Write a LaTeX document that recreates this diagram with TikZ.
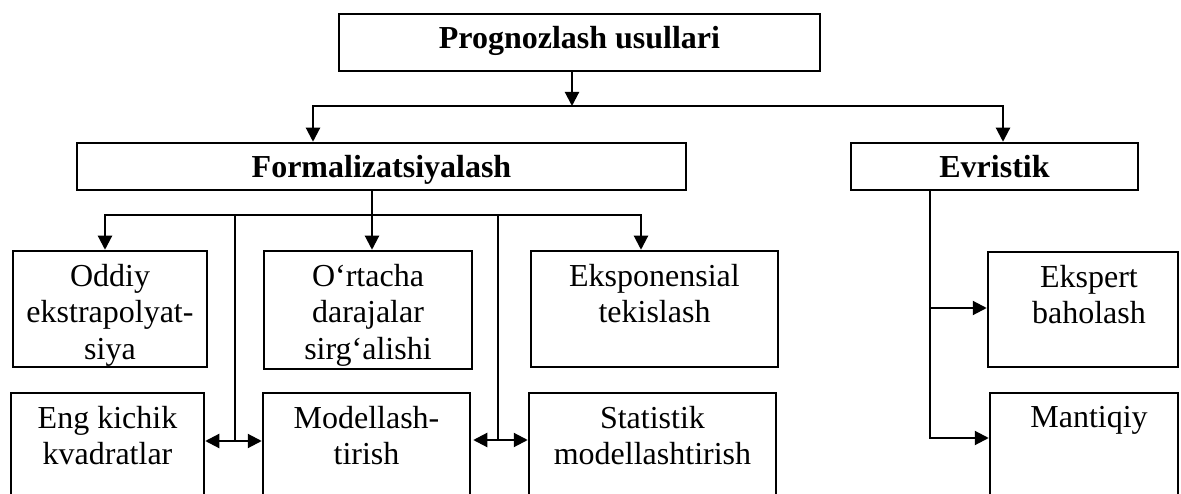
\documentclass[tikz,border=0pt]{standalone}
\usepackage{fontspec}
\setmainfont{Liberation Serif}
\usetikzlibrary{arrows.meta,calc}
\begin{document}
\begin{tikzpicture}[x=1pt,y=-1pt,
  box/.style={draw,line width=2.5pt,inner sep=0pt},
  conn/.style={line width=2.1pt},
  >={Triangle[length=14pt,width=14pt]},
  lab/.style={font=\fontsize{32}{36.5}\selectfont, align=center, inner sep=0pt, anchor=north},
  blab/.style={font=\fontsize{32}{36.5}\selectfont\bfseries, inner sep=0pt, anchor=base}]
\useasboundingbox (0,0) rectangle (1181,494);
\clip (0,0) rectangle (1181,494);
% boxes
\node[box, minimum width=481pt, minimum height=57pt] (top) at (579.5,42.5) {};
\node[box, minimum width=609pt, minimum height=47pt] (formal) at (381.5,166.5) {};
\node[box, minimum width=287pt, minimum height=47pt] (evr) at (994.5,166.5) {};
\node[box, minimum width=194pt, minimum height=116pt] (oddiy) at (110,309) {};
\node[box, minimum width=208pt, minimum height=118pt] (ortacha) at (368,310) {};
\node[box, minimum width=247pt, minimum height=116pt] (eksp) at (654.5,309) {};
\node[box, minimum width=193pt, minimum height=127pt] (eng) at (107.5,456.5) {};
\node[box, minimum width=207pt, minimum height=127pt] (model) at (366.5,456.5) {};
\node[box, minimum width=247pt, minimum height=127pt] (stat) at (652.5,456.5) {};
\node[box, minimum width=190pt, minimum height=115pt] (ekspert) at (1083,309.5) {};
\node[box, minimum width=188pt, minimum height=127pt] (mant) at (1084,456.5) {};
% texts
\node[blab] (topT) at (579.5,49) {Prognozlash usullari};
\node[blab] (formalT) at (381.5,178) {Formalizatsiyalash};
\node[blab] (evrT) at (994.5,178) {Evristik};
\node[lab] (oddiyT) at (110,264) {Oddiy\\ekstrapolyat-\\siya};
\node[lab] (ortachaT) at (368,264) {O‘rtacha\\darajalar\\sirg‘alishi};
\node[lab] (ekspT) at (654.5,264) {Eksponensial\\tekislash};
\node[lab] (engT) at (107.5,406) {Eng kichik\\kvadratlar};
\node[lab] (modelT) at (366.5,406) {Modellash-\\tirish};
\node[lab] (statT) at (652.5,406) {Statistik\\modellashtirish};
\node[lab] (ekspertT) at (1089,265) {Ekspert\\baholash};
\node[lab] (mantT) at (1089,406) {Mantiqiy};
% junction coordinates
\coordinate (t1) at (572,106);
\coordinate (bL) at (313,106);
\coordinate (bR) at (1003,106);
\coordinate (c1) at (105,215);
\coordinate (c2) at (641,215);
\coordinate (fd) at (372,215);
\coordinate (v1) at (235,441);
\coordinate (v2) at (498,440);
\coordinate (e1) at (930,308);
\coordinate (e2) at (930,438);
% connectors
\draw[conn,->] (t1 |- top.south) -- (t1);
\draw[conn,<->] (bL |- formal.north) -- (bL) -- (bR) -- (bR |- evr.north);
\draw[conn,<->] (c1 |- oddiy.north) -- (c1) -- (c2) -- (c2 |- eksp.north);
\draw[conn,->] (fd |- formal.south) -- (fd |- ortacha.north);
\draw[conn] (v1 |- c1) -- (v1);
\draw[conn,<->] (v1 -| eng.east) -- (v1 -| model.west);
\draw[conn] (v2 |- c1) -- (v2);
\draw[conn,<->] (v2 -| ortacha.east) -- (v2 -| stat.west);
\draw[conn,->] (e1 |- evr.south) -- (e2) -- (e2 -| mant.west);
\draw[conn,->] (e1) -- (e1 -| ekspert.west);
\end{tikzpicture}
\end{document}
